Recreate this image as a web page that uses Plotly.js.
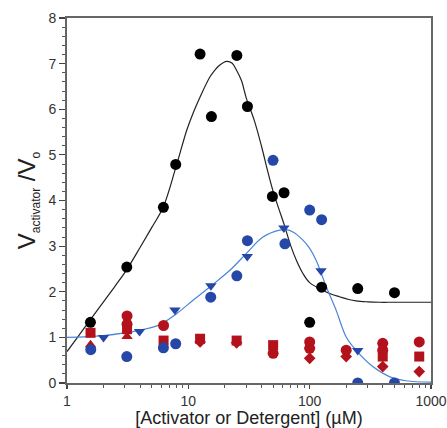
<!DOCTYPE html>
<html><head><meta charset="utf-8">
<script src="https://cdn.plot.ly/plotly-3.0.1.min.js"></script>
<style>html,body{margin:0;padding:0;background:#fff;}#chart{width:447px;height:428px;}</style>
</head><body><div id="chart"></div>
<script>
// Black series (circles) and fitted curve
const blackX = [1.56, 3.11, 6.23, 7.87, 12.5, 15.5, 25.1, 30.7, 49.3, 61.5, 100, 125.5, 249, 500];
const blackY = [1.33, 2.54, 3.85, 4.79, 7.21, 5.84, 7.18, 6.06, 4.09, 4.17, 1.33, 2.10, 2.07, 1.98];
const blackFitX = [1, 1.25, 1.56, 2, 2.5, 3.1, 4, 5, 6.2, 7.9, 9.7, 11, 12.5, 15, 16, 18, 20.7, 23, 25, 27.4, 30, 35, 40, 45, 50, 56, 62, 70, 78, 88, 100, 124.5, 150, 176, 210, 241, 300, 375, 500, 1000];
const blackFitY = [0.69, 1.04, 1.39, 1.78, 2.13, 2.48, 2.97, 3.41, 3.85, 4.73, 5.54, 5.93, 6.27, 6.70, 6.81, 6.96, 7.05, 7.01, 6.85, 6.63, 6.25, 5.75, 5.2, 4.65, 4.2, 3.8, 3.45, 3.0, 2.68, 2.4, 2.2, 2.05, 1.95, 1.89, 1.83, 1.80, 1.78, 1.77, 1.77, 1.77];
// Blue series
const blueCircX = [1.57, 3.11, 6.23, 7.87, 15.3, 25.1, 30.7, 49.9, 62.5, 100, 125.5, 249, 500];
const blueCircY = [0.73, 0.58, 0.77, 0.86, 1.88, 2.35, 3.12, 4.88, 3.05, 3.79, 3.58, 0.0, 0.0];
const blueTriX = [2.0, 3.96, 7.75, 15.35, 30.6, 61.3, 124, 249];
const blueTriY = [1.0, 1.13, 1.6, 2.13, 2.77, 3.40, 2.46, 0.71];
const blueFitX = [1, 2, 4, 5.84, 8, 11, 15.1, 22, 30.1, 41.2, 56.6, 64, 72.8, 88, 100, 113, 137, 165, 200, 241, 331, 454, 622, 1000];
const blueFitY = [1.0, 1.04, 1.16, 1.28, 1.52, 1.82, 2.11, 2.47, 2.84, 3.2, 3.35, 3.36, 3.31, 3.13, 2.95, 2.69, 2.11, 1.6, 1.01, 0.72, 0.36, 0.14, 0.05, 0.02];
// Red series
const redCircX = [3.125, 3.125, 6.25, 50, 100, 100, 200, 400, 400, 800];
const redCircY = [1.47, 1.29, 1.26, 0.65, 0.90, 0.76, 0.72, 0.87, 0.72, 0.90];
const redSqX = [1.5625, 3.125, 6.25, 12.5, 25, 50, 400, 800];
const redSqY = [1.10, 1.18, 0.93, 0.97, 0.93, 0.83, 0.58, 0.58];
const redTriX = [1.5625, 3.125];
const redTriY = [0.84, 1.02];
const redDiaX = [12.5, 25, 100, 200, 400, 800];
const redDiaY = [0.90, 0.88, 0.54, 0.58, 0.36, 0.25];

const RED = '#b3121c', BLUE = '#2547a8', BLUEL = '#4a86d6';
const traces = [
  {x: blackFitX, y: blackFitY, mode: 'lines', line: {color: '#222', width: 1.2, shape: 'spline'}},
  {x: blueFitX, y: blueFitY, mode: 'lines', line: {color: BLUEL, width: 1.2, shape: 'spline'}},
  {x: redCircX, y: redCircY, mode: 'markers', marker: {symbol: 'circle', size: 11, color: RED}},
  {x: redSqX, y: redSqY, mode: 'markers', marker: {symbol: 'square', size: 10, color: RED}},
  {x: redTriX, y: redTriY, mode: 'markers', marker: {symbol: 'triangle-up', size: 10, color: RED}},
  {x: redDiaX, y: redDiaY, mode: 'markers', marker: {symbol: 'diamond', size: 9, color: RED}},
  {x: blueCircX, y: blueCircY, mode: 'markers', marker: {symbol: 'circle', size: 11, color: BLUE}},
  {x: blueTriX, y: blueTriY, mode: 'markers', marker: {symbol: 'triangle-down', size: 10, color: BLUE}},
  {x: blackX, y: blackY, mode: 'markers', marker: {symbol: 'circle', size: 11, color: '#000'}}
];
const layout = {
  width: 447, height: 428,
  margin: {l: 67, r: 16, t: 18, b: 45},
  paper_bgcolor: '#fff', plot_bgcolor: '#fff',
  showlegend: false,
  font: {family: 'Liberation Sans, Arial, sans-serif', color: '#222'},
  xaxis: {
    type: 'log', range: [0, 3], tickvals: [1, 10, 100, 1000], ticktext: ['1', '10', '100', '1000'],
    ticks: 'outside', ticklen: 4, tickwidth: 1.2, tickcolor: '#444',
    minor: {ticks: 'outside', ticklen: 3, tickwidth: 1, tickcolor: '#555', tickvals: [2,3,4,5,6,7,8,9,20,30,40,50,60,70,80,90,200,300,400,500,600,700,800,900]},
    showgrid: false, zeroline: false, showline: true, linecolor: '#666', linewidth: 2, mirror: true,
    tickfont: {size: 14, color: '#333'},
    title: {text: '[Activator or Detergent] (µM)', font: {size: 18, color: '#222'}, standoff: 3}
  },
  yaxis: {
    range: [0, 8], dtick: 1, ticks: 'outside', ticklen: 6, tickwidth: 1.2, tickcolor: '#444',
    minor: {ticks: 'outside', ticklen: 3, tickwidth: 1, tickcolor: '#555', dtick: 0.2},
    showgrid: false, zeroline: false, showline: true, linecolor: '#666', linewidth: 2, mirror: true,
    tickfont: {size: 14, color: '#333'},
    title: {text: 'V<sub><span style="font-size:12px">activator</span></sub> /V<sub><span style="font-size:12px">o</span></sub>', font: {size: 24, color: '#222'}, standoff: 6}
  }
};
Plotly.newPlot('chart', traces, layout, {displayModeBar: false, staticPlot: true});
</script></body></html>
